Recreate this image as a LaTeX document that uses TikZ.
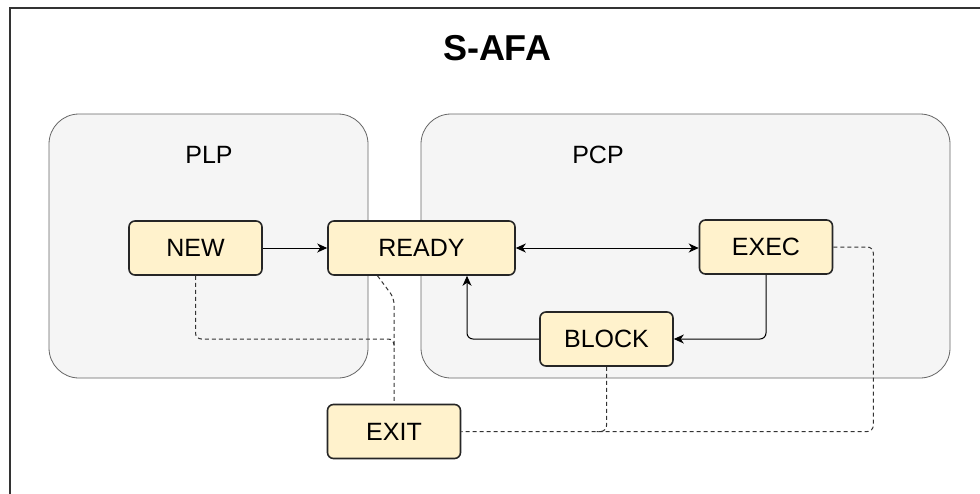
\documentclass[tikz,border=0pt]{standalone}
\usepackage{fontspec}
\setmainfont{Liberation Sans}
\usetikzlibrary{arrows.meta}
\definecolor{statefill}{HTML}{FFF2CC}
\definecolor{groupfill}{HTML}{F5F5F5}
\definecolor{groupline}{HTML}{666666}
\begin{document}
\begin{tikzpicture}[x=1pt,y=-1pt]

    \tikzstyle{group} = [draw=groupline, fill=groupfill, rounded corners=30pt, line width=.8pt]
    \tikzstyle{lbl} = [font=\fontsize{25}{30}\selectfont, inner sep=0pt]
    \tikzstyle{state} = [draw=black!85, fill=statefill, rounded corners=6pt, line width=1.6pt,
        minimum width=133pt, minimum height=54pt, font=\fontsize{25}{30}\selectfont, inner sep=0pt]
    \tikzstyle{flow} = [line width=1pt, arrows=-{Stealth[length=10pt,width=9pt,inset=3pt]}, rounded corners=6pt]
    \tikzstyle{exitflow} = [line width=1pt, draw=black!80, dash pattern=on 4pt off 3pt, rounded corners=6pt]

    \clip (0,0) rectangle (980,493);

    % Frame and title
    \draw[line width=2.5pt, draw=black!80, fill=white] (10,8) rectangle (1000,520);
    \node[font=\bfseries\fontsize{36}{40}\selectfont, inner sep=0pt] (title) at (497,48) {S-AFA};

    % PLP and PCP
    \draw[group] (49,114) rectangle (368,378);
    \draw[group] (421,114) rectangle (950,378);
    \node[lbl] (plp) at (209,155) {PLP};
    \node[lbl] (pcp) at (598,155) {PCP};

    % States
    \node[state] (new) at (195.5,248) {NEW};
    \node[state, minimum width=187pt] (ready) at (421.5,248) {READY};
    \node[state] (exec) at (766,247) {EXEC};
    \node[state] (block) at (606.5,339) {BLOCK};
    \node[state] (exit) at (394,431.5) {EXIT};

    % Transitions
    \draw[flow] (new) -- (ready);
    \draw[flow, arrows={Stealth[length=10pt,width=9pt,inset=3pt]}-{Stealth[length=10pt,width=9pt,inset=3pt]}]
        (ready.east) -- (exec.west |- ready.east);
    \draw[flow] (exec.south) |- (block.east);
    \draw[flow] (block.west) -| ([xshift=45.5pt]ready.south);

    % Exit paths
    \coordinate (bend) at (394,298);
    \draw[exitflow] (new.south) |- (exit.north |- block.west) -- ++(0,8);
    \draw[exitflow] ([xshift=-44pt]ready.south) -- (bend) -- (exit.north);
    \draw[exitflow] (exec.east) -- ++(40,0) |- (exit.east);
    \draw[exitflow] (block.south) |- ([xshift=-10pt]block.south |- exit.east);

\end{tikzpicture}
\end{document}
